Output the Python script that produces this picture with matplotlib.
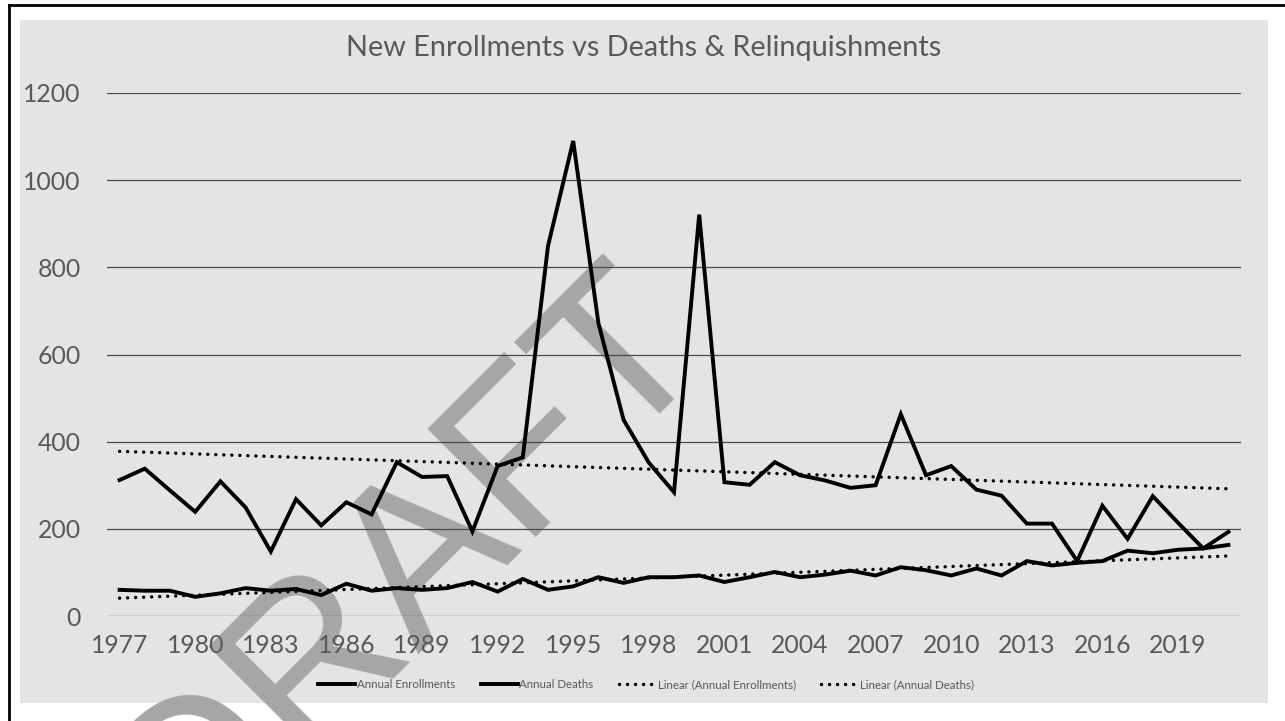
import numpy as np
import matplotlib
matplotlib.use("Agg")
import matplotlib.pyplot as plt
from matplotlib.patches import Rectangle
from matplotlib.lines import Line2D

years = list(range(1977, 2022))
enrollments = [312, 338, 288, 239, 309, 249, 148, 268, 208, 261,
               233, 353, 319, 321, 194, 344, 364, 849, 1090, 672,
               450, 352, 284, 921, 307, 301, 353, 323, 311, 294,
               300, 463, 323, 344, 290, 276, 212, 212, 126, 253,
               177, 275, 214, 155, 193]
deaths = [60, 58, 58, 44, 52, 64, 58, 62, 48, 74,
          58, 64, 60, 64, 78, 56, 85, 60, 68, 89,
          76, 89, 89, 93, 78, 89, 101, 89, 95, 104,
          93, 112, 105, 93, 109, 93, 126, 116, 122, 126,
          150, 144, 152, 155, 163]
xticks = list(range(1977, 2020, 3))
yticks = [0, 200, 400, 600, 800, 1000, 1200]

plt.rcParams['font.family'] = ['Lato', 'DejaVu Sans']

W, H = 1285, 721
fig = plt.figure(figsize=(W / 100, H / 100), dpi=100)

# chart background + page border
fig.patches.append(Rectangle((20 / W, 1 - 703 / H), 1248 / W, 683 / H,
                             transform=fig.transFigure, facecolor='#E4E4E4',
                             edgecolor='none', zorder=0))
fig.add_artist(Line2D([9 / W, 1], [1 - 5 / H, 1 - 5 / H], color='black', lw=2, zorder=5))
fig.add_artist(Line2D([9 / W, 9 / W], [0, 1 - 5 / H], color='black', lw=2, zorder=5))

# watermark (runs off the bottom edge like in the original)
fig.text(448 / W, 1 - 606 / H, "DRAFT", fontsize=160, color='#A6A6A6',
         family='Liberation Sans', rotation=45, ha='center', va='baseline',
         rotation_mode='anchor', zorder=1)

ax = fig.add_axes([107 / W, 1 - 616 / H, (1241 - 107) / W, (616 - 93) / H])
ax.patch.set_alpha(0)
ax.set_zorder(2)

x = np.array(years)
ax.plot(x, enrollments, color='black', lw=2.8, solid_joinstyle='miter', label='Annual Enrollments', zorder=3)
ax.plot(x, deaths, color='black', lw=2.8, solid_joinstyle='miter', label='Annual Deaths', zorder=3)

p1 = np.polyfit(x, enrollments, 1)
p2 = np.polyfit(x, deaths, 1)
dots = (0, (0.01, 2.3))
ax.plot(x, np.polyval(p1, x), color='black', lw=2.5, linestyle=dots, dash_capstyle='round',
        label='Linear (Annual Enrollments)', zorder=3)
ax.plot(x, np.polyval(p2, x), color='black', lw=2.5, linestyle=dots, dash_capstyle='round',
        label='Linear (Annual Deaths)', zorder=3)

ax.set_xlim(1976.5, 2021.5)
ax.set_ylim(0, 1200)
ax.set_xticks(xticks)
ax.set_yticks(yticks)
ax.grid(axis='y', color='#4a4a4a', lw=0.9)
ax.set_axisbelow(True)
for s in ax.spines.values():
    s.set_visible(False)
ax.tick_params(length=0, labelsize=17.8, labelcolor='#595959')
ax.tick_params(axis='y', pad=19)
ax.tick_params(axis='x', pad=13)

fig.text(644 / W, 1 - 48 / H, "New Enrollments vs Deaths & Relinquishments",
         fontsize=20.8, color='#595959', ha='center', va='center')

leg = fig.legend(loc='center', bbox_to_anchor=(646 / W, 1 - 685 / H), ncol=4, frameon=False,
                 fontsize=8.3, handlelength=3.2, handletextpad=0.15, columnspacing=2.2,
                 labelcolor='#595959')

fig.savefig("out.png", dpi=100)
